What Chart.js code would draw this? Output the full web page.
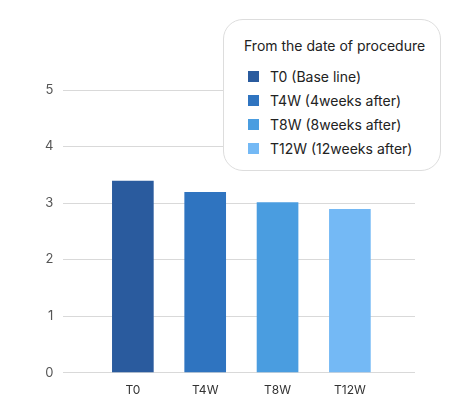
<!DOCTYPE html>
<html><head><meta charset="utf-8">
<script src="https://cdn.jsdelivr.net/npm/chart.js@4"></script>
<style>
body{margin:0;background:#fff;font-family:Inter,"Noto Sans",sans-serif}
#wrap{position:relative;width:456px;height:409px}
#legend{position:absolute;left:223px;top:19px;width:218px;height:152px;box-sizing:border-box;border:1px solid #ddd;border-radius:20px;background:#fff;padding:17px 0 0 20px;font-size:14px;color:#222}
#legend .t{margin-bottom:10px}
#legend .r{height:24px;display:flex;align-items:center}
#legend .s{width:11px;height:11px;margin-right:11px;margin-left:4px}
</style></head><body>
<div id="wrap"><canvas id="c" width="456" height="409"></canvas><div id="legend"></div></div>
<script>
const categories = ['T0', 'T4W', 'T8W', 'T12W'];
const legendLabels = ['T0 (Base line)', 'T4W (4weeks after)', 'T8W (8weeks after)', 'T12W (12weeks after)'];
const values = [3.39, 3.19, 3.01, 2.89];
const colors = ['#2a5b9e', '#2f74c0', '#4a9de0', '#74b9f5'];

const lg = document.getElementById('legend');
lg.innerHTML = '<div class="t">From the date of procedure</div>' +
  legendLabels.map((l, i) => '<div class="r"><span class="s" style="background:' + colors[i] + '"></span>' + l + '</div>').join('');

new Chart(document.getElementById('c'), {
  type: 'bar',
  data: {
    datasets: [{
      data: values.map((v, i) => ({x: i, y: v})),
      backgroundColor: colors,
      barThickness: 41
    }]
  },
  options: {
    responsive: false,
    animation: false,
    layout: {padding: {left: 35, right: 41, top: 90, bottom: 8}},
    plugins: {legend: {display: false}, tooltip: {enabled: false}},
    scales: {
      x: {
        type: 'linear', min: -0.96, max: 3.9, offset: false,
        grid: {display: false},
        border: {display: false},
        ticks: {stepSize: 1, includeBounds: false, autoSkip: false,
          callback: v => categories[v] ?? '', color: '#333', font: {size: 12, family: 'Inter'}}
      },
      y: {
        min: 0, max: 5,
        ticks: {stepSize: 1, color: '#555', font: {size: 13, family: 'Inter'}, padding: 10},
        grid: {color: '#d9d9d9', drawTicks: false},
        border: {display: false}
      }
    }
  }
});
</script></body></html>
